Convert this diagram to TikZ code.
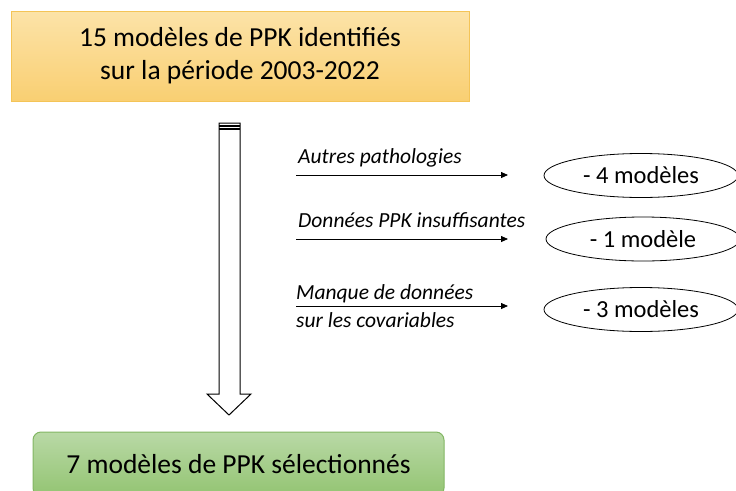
\documentclass[tikz,border=0pt]{standalone}
\usepackage{fontspec}
\setmainfont{Carlito}
\usetikzlibrary{shapes.geometric,arrows.meta}
\definecolor{orA}{HTML}{FCE3A8}
\definecolor{orB}{HTML}{F9CF72}
\definecolor{orE}{HTML}{F4C457}
\definecolor{grA}{HTML}{B9D9A6}
\definecolor{grB}{HTML}{93C472}
\definecolor{grE}{HTML}{82B663}
\tikzset{
  lbl/.style={font=\fontsize{21.5}{24}\selectfont\itshape, anchor=base west, inner sep=0pt},
  ell/.style={ellipse, draw=black, line width=0.8pt, minimum width=194pt, minimum height=44pt, font=\fontsize{24.5}{28}\selectfont, inner sep=0pt},
  rarr/.style={-{Triangle[length=7pt,width=6pt]}, line width=0.8pt},
}
\begin{document}
\begin{tikzpicture}[x=1pt,y=-1pt]
\useasboundingbox (0,0) rectangle (736,490);
\begin{scope}
\clip (0,0) rectangle (736,490);
% top box
\node[draw=orE, line width=1pt, top color=orA, bottom color=orB, minimum width=458pt, minimum height=90pt, align=center, font=\fontsize{27.5}{33}\selectfont, inner sep=0pt] (top) at (240,56) {15 modèles de PPK identifiés\\sur la période 2003-2022};
% bottom box
\node[draw=grE, line width=1pt, rounded corners=8pt, top color=grA, bottom color=grB, minimum width=411pt, minimum height=64pt, font=\fontsize{27.5}{30}\selectfont, inner sep=0pt] (bot) at (238.5,464) {7 modèles de PPK sélectionnés};
% big arrow
\draw[line width=1pt, fill=white, line join=miter]
  (219,123) -- (219,394) -- (207,394) -- (229,415) -- (251,394) -- (240,394) -- (240,123) -- cycle;
\draw[line width=1.2pt] (219,126) -- (240,126);
\draw[line width=1.2pt] (219,129) -- (240,129);
% ellipses
\node[ell] (e1) at (641,175.5) {- 4 modèles};
\node[ell] (e2) at (643,239) {- 1 modèle};
\node[ell] (e3) at (641,309.5) {- 3 modèles};
% arrows
\coordinate (s1) at (296,175);
\coordinate (s2) at (296,239);
\coordinate (s3) at (296,306);
\coordinate (t1) at (508,175);
\coordinate (t2) at (508,239);
\coordinate (t3) at (508,306);
\draw[rarr] (s1) -- (t1);
\draw[rarr] (s2) -- (t2);
\draw[rarr] (s3) -- (t3);
\node[lbl] (l1) at (298,163) {Autres pathologies};
\node[lbl] (l2) at (298,227) {Données PPK insuffisantes};
\node[lbl] (l3) at (296,299) {Manque de données};
\node[lbl] (l4) at (296,327) {sur les covariables};
\end{scope}
\end{tikzpicture}
\end{document}
